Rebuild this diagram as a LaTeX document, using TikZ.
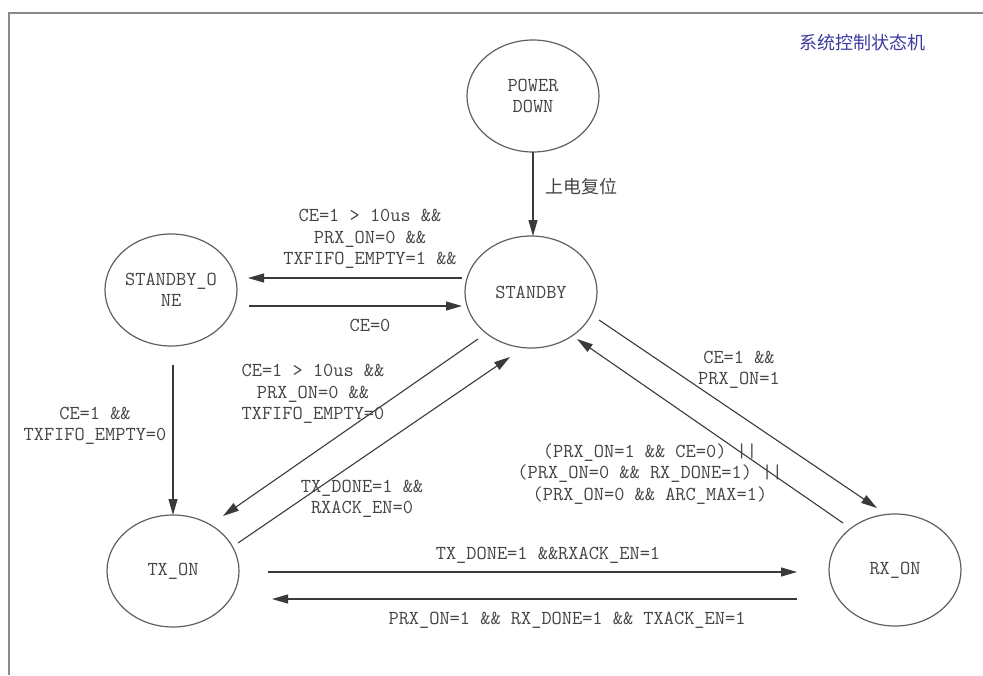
\documentclass[tikz,border=0pt]{standalone}
\usepackage{fontspec}
\newfontfamily\cjkfont{Noto Sans CJK SC}
\usetikzlibrary{arrows.meta,shapes.geometric,calc}
\definecolor{txtcol}{HTML}{444444}
\definecolor{linecol}{HTML}{3A3A3A}
\definecolor{ellcol}{HTML}{606060}
\definecolor{framecol}{HTML}{8A8A8A}
\definecolor{titlecol}{HTML}{3C3CA0}
\newcommand\monof{\fontsize{19.8}{21.5}\selectfont\ttfamily}
\begin{document}
\begin{tikzpicture}[x=1pt,y=-1pt,
  state/.style={ellipse, draw=ellcol, line width=1.2pt, minimum width=132pt, minimum height=112pt, inner sep=0pt, font=\monof, text=txtcol, align=center},
  lbl/.style={font=\monof, text=txtcol, align=center, inner sep=0pt},
  arr/.style={draw=linecol, line width=1.1pt, -{Triangle[length=16pt,width=9pt]}}]
\useasboundingbox (0,0) rectangle (983,675);
\fill[white] (0,0) rectangle (983,675);
% frame
\draw[framecol, line width=1.5pt] (9,675) -- (9,13) -- (983,13);
% title
\node[font=\cjkfont\fontsize{18}{20}\selectfont, text=titlecol, inner sep=0pt] (title) at (862,43) {系统控制状态机};
% states
\node[state] (pd) at (533,96) {POWER\\DOWN};
\node[state] (sb) at (531,292) {STANDBY};
\node[state] (sb1) at (171,290) {STANDBY\_O\\NE};
\node[state] (tx) at (173,571) {TX\_ON};
\node[state] (rx) at (895,570) {RX\_ON};
% connectors
\draw[arr] ($(pd)+(0,56)$) -- ($(sb)+(2,-56)$);
\draw[arr] ($(sb)+(-69,-14)$) -- ($(sb1)+(77,-12)$);
\draw[arr] ($(sb1)+(78,16)$) -- ($(sb)+(-69,14)$);
\draw[arr] ($(sb1)+(2,75)$) -- ($(tx)+(0,-56)$);
\draw[arr] ($(sb)+(-53,47)$) -- ($(tx)+(50,-55)$);
\draw[arr] ($(tx)+(65,-28)$) -- ($(sb)+(-21,65)$);
\draw[arr] ($(sb)+(68,28)$) -- ($(rx)+(-18,-62)$);
\draw[arr] ($(rx)+(-52,-47)$) -- ($(sb)+(46,47)$);
\draw[arr] ($(tx)+(95,1)$) -- ($(rx)+(-98,2)$);
\draw[arr] ($(rx)+(-98,29)$) -- ($(tx)+(99,28)$);
% labels
\node[text=txtcol, inner sep=0pt, font=\cjkfont\fontsize{18}{20}\selectfont] (l1) at (581,187) {上电复位};
\node[lbl] (l2) at (370,239) {CE=1 > 10us \&\&\\PRX\_ON=0 \&\&\\TXFIFO\_EMPTY=1 \&\&};
\node[lbl] (l3) at (370,325) {CE=0};
\node[lbl] (l4) at (95,426) {CE=1 \&\&\\TXFIFO\_EMPTY=0};
\node[lbl] (l5) at (313,394) {CE=1 > 10us \&\&\\PRX\_ON=0 \&\&\\TXFIFO\_EMPTY=0};
\node[lbl] (l6) at (362,499) {TX\_DONE=1 \&\&\\RXACK\_EN=0};
\node[lbl] (l7) at (739,370) {CE=1 \&\&\\PRX\_ON=1};
\node[lbl] (l8) at (650,474) {(PRX\_ON=1 \&\& CE=0) ||\\(PRX\_ON=0 \&\& RX\_DONE=1) ||\\(PRX\_ON=0 \&\& ARC\_MAX=1)};
\node[lbl] (l9) at (548,555) {TX\_DONE=1 \&\&RXACK\_EN=1};
\node[lbl] (l10) at (567,620) {PRX\_ON=1 \&\& RX\_DONE=1 \&\& TXACK\_EN=1};
\end{tikzpicture}
\end{document}
